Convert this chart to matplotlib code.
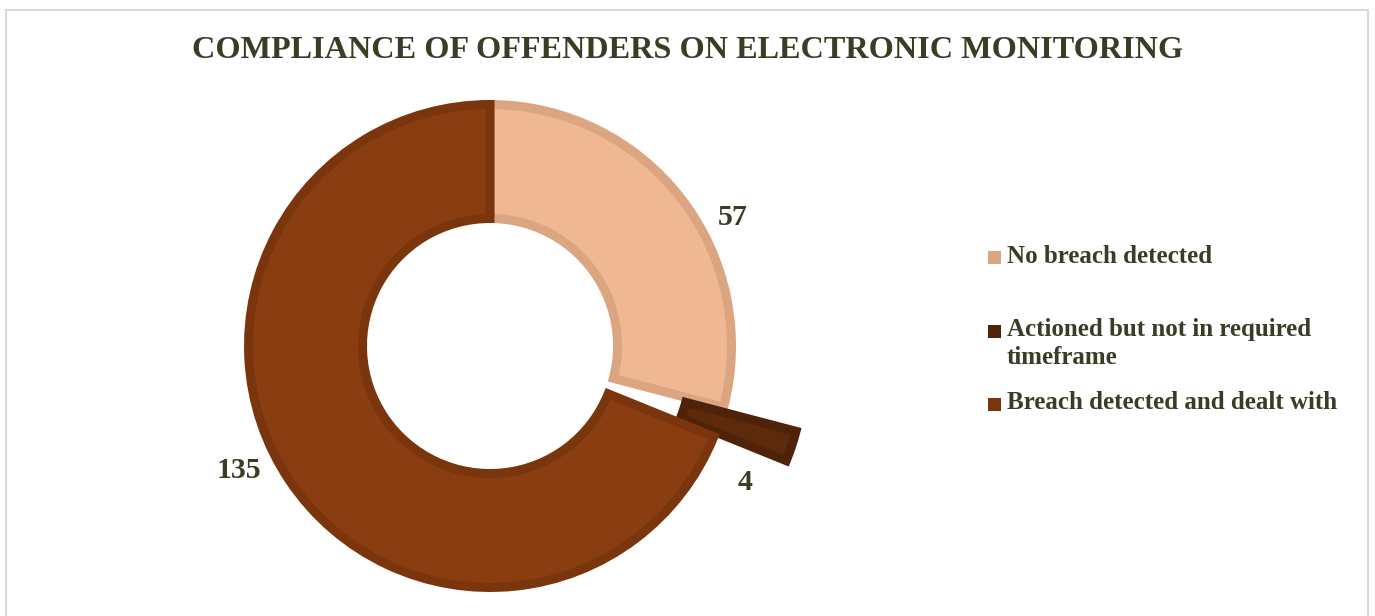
import matplotlib.pyplot as plt
import numpy as np
from matplotlib.patches import Rectangle

# Data
labels = ['No breach detected', 'Actioned but not in required\ntimeframe', 'Breach detected and dealt with']
values = [57, 4, 135]
fills = ['#EFB892', '#5E2A0C', '#8A3D10']
edges = ['#DBA582', '#4F2309', '#7A350D']
explode = [0, 0.31, 0]

TEXT = '#3B3B26'
plt.rcParams['font.family'] = ['Liberation Serif', 'DejaVu Serif']
plt.rcParams['font.weight'] = 'bold'

fig = plt.figure(figsize=(13.75, 6.16), dpi=100)

# light gray frame around the chart area
fig.patches.append(Rectangle((6 / 1375, -0.05), 1362 / 1375, 1 - 10 / 616 + 0.05,
                             transform=fig.transFigure, fill=False,
                             edgecolor='#D9D9D9', linewidth=1.5))

# axes square centred on the donut
cx, cy, half, R = 490, 346, 300, 246
ax = fig.add_axes([(cx - half) / 1375, (616 - cy - half) / 616, 2 * half / 1375, 2 * half / 616])

width = 0.5
lw = 6.5
inset = lw / 72 * 100 / 2 / R  # keep stroke inside the wedge
wedges, _ = ax.pie(values, colors=fills, explode=explode, startangle=90, counterclock=False,
                   radius=1 - inset,
                   wedgeprops=dict(width=width - 2 * inset, edgecolor='none'))
for w, ec in zip(wedges, edges):
    w.set_edgecolor(ec)
    w.set_linewidth(lw)
    w.set_joinstyle('miter')

lim = half / R
ax.set_xlim(-lim, lim)
ax.set_ylim(-lim, lim)
ax.set_aspect('equal')
ax.axis('off')

# value labels
label_pos = [(1.117, 27.8), (1.175, -28.1), (1.138, 206.3)]
for v, (r, a) in zip(values, label_pos):
    t = np.deg2rad(a)
    ax.text(r * np.cos(t), r * np.sin(t), str(v), ha='center', va='center',
            fontsize=21.5, color=TEXT, fontweight='bold')

fig.text(0.5, 1 - 50 / 616, 'COMPLIANCE OF OFFENDERS ON ELECTRONIC MONITORING',
         ha='center', va='center', fontsize=23.2, color=TEXT, fontweight='bold')

# legend
for i, (lab, c) in enumerate(zip(labels, edges)):
    y = 258 + 73 * i
    fig.patches.append(Rectangle((988 / 1375, 1 - (y + 6.5) / 616), 13 / 1375, 13 / 616,
                                 transform=fig.transFigure, facecolor=c, edgecolor='none'))
    fig.text(1007 / 1375, 1 - (y - 13) / 616, lab, ha='left', va='top', fontsize=18,
             color=TEXT, fontweight='bold', linespacing=1.3)

fig.savefig('out.png', dpi=100, facecolor='white')
